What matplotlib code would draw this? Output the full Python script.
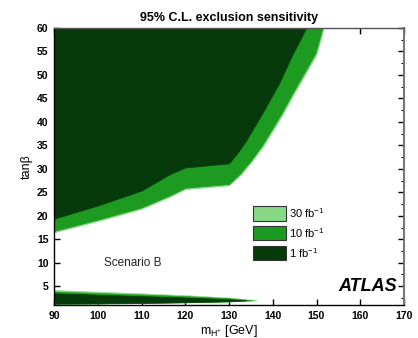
import matplotlib
matplotlib.use("Agg")
import matplotlib.pyplot as plt
from matplotlib.patches import Rectangle
from matplotlib.ticker import MultipleLocator

plt.rcParams['font.family'] = ['Liberation Sans', 'DejaVu Sans']
plt.rcParams['mathtext.fontset'] = 'custom'
plt.rcParams['mathtext.rm'] = 'Liberation Sans'
plt.rcParams['mathtext.it'] = 'Liberation Sans:italic'

# ---- data: exclusion contours (upper region, tan(beta) vs m_H+) ----
x_1fb = [90, 100, 110, 116.5, 120, 130, 132, 134, 137.5, 141.3, 144.3, 147.6]
y_1fb = [19.4, 22.2, 25.4, 28.9, 30.3, 31.2, 33.5, 36.2, 41.7, 48.0, 54.0, 60]

x_10fb = [90, 100, 110, 116.5, 120, 130, 132.5, 135, 137.5, 140, 142, 144.3, 147.0, 149.7, 150.8, 151.3]
y_10fb = [16.8, 19.2, 21.8, 24.4, 26.0, 26.8, 29.0, 31.8, 35.0, 38.8, 41.9, 45.8, 50.2, 54.6, 58.2, 60]

x_30fb = [90, 100, 110, 116.5, 120, 130, 132.7, 135.2, 137.8, 140.3, 142.3, 144.6, 147.3, 150.0, 151.1, 151.6]
y_30fb = [16.5, 18.9, 21.5, 24.1, 25.7, 26.5, 28.8, 31.6, 34.8, 38.6, 41.7, 45.6, 50.0, 54.4, 58.1, 60]

# ---- data: low tan(beta) exclusion wedge ----
xl_1fb = [90, 100, 110, 120, 130, 134]
top_1fb = [3.5, 3.2, 2.9, 2.6, 2.25, 2.0]
bot_1fb = [1.3, 1.35, 1.45, 1.6, 1.8, 2.0]

xl_10fb = [90, 100, 110, 120, 130, 135.5]
top_10fb = [3.9, 3.55, 3.25, 2.9, 2.45, 2.0]
bot_10fb = [1.25, 1.3, 1.4, 1.55, 1.75, 2.0]

xl_30fb = [90, 100, 110, 120, 130, 136.5]
top_30fb = [4.2, 3.85, 3.5, 3.1, 2.6, 2.0]
bot_30fb = [1.25, 1.3, 1.4, 1.55, 1.75, 2.0]

labels = ['30 fb$^{-1}$', '10 fb$^{-1}$', '1 fb$^{-1}$']
colors = ['#88d888', '#1c9b20', '#073a0a']

xticks = [90, 100, 110, 120, 130, 140, 150, 160, 170]
yticks = [5, 10, 15, 20, 25, 30, 35, 40, 45, 50, 55, 60]
XMIN, XMAX, YMIN, YMAX = 90, 170, 1, 60

fig = plt.figure(figsize=(4.18, 3.38), dpi=100)
ax = fig.add_axes([54/418, 33/338, 350/418, 277/338])
ax.set_axisbelow(True)

# upper region
for xs, ys, c in [(x_30fb, y_30fb, colors[0]), (x_10fb, y_10fb, colors[1]), (x_1fb, y_1fb, colors[2])]:
    ax.fill_between(xs, ys, YMAX, color=c, lw=0.6, edgecolor=c, zorder=1)
# low region
for xs, t, b, c in [(xl_30fb, top_30fb, bot_30fb, colors[0]), (xl_10fb, top_10fb, bot_10fb, colors[1]),
                    (xl_1fb, top_1fb, bot_1fb, colors[2])]:
    ax.fill_between(xs, b, t, color=c, lw=0.4, edgecolor=c, zorder=1)

ax.set_xlim(XMIN, XMAX)
ax.set_ylim(YMIN, YMAX)
ax.set_xticks(xticks)
ax.set_yticks(yticks)
ax.yaxis.set_minor_locator(MultipleLocator(2.5))
ax.tick_params(which='major', direction='in', length=4, width=1, top=True, right=True,
               labelsize=7.5, pad=4)
ax.tick_params(which='minor', direction='in', length=2, width=0.8, left=False, right=True)
for lab in ax.get_xticklabels() + ax.get_yticklabels():
    lab.set_fontweight('bold')

for s in ['left', 'bottom', 'top']:
    ax.spines[s].set_linewidth(1.0)
ax.spines['right'].set_color('#777777')
ax.spines['right'].set_linewidth(1.5)
ax.spines['top'].set_color('#555555')

ax.set_title('95% C.L. exclusion sensitivity', fontsize=9, fontweight='bold', pad=5)
ax.set_xlabel(r'm$_{\mathrm{H}^{+}}$ [GeV]', fontsize=9, labelpad=2)
ax.set_ylabel('tanβ', fontsize=9, labelpad=3)

ax.text(0.225, 0.15, 'Scenario B', transform=ax.transAxes, fontsize=8.5, ha='center', va='center',
        color='#222222')
ax.text(0.98, 0.065, 'ATLAS', transform=ax.transAxes, fontsize=13, fontweight='bold', style='italic',
        ha='right', va='center')

# legend
box_y = [0.304, 0.235, 0.162]
for yb, lab, c in zip(box_y, labels, colors):
    ax.add_patch(Rectangle((0.569, yb), 0.094, 0.052, transform=ax.transAxes, facecolor=c,
                           edgecolor='#333333', lw=0.8, zorder=3))
    ax.text(0.672, yb + 0.026, lab, transform=ax.transAxes, fontsize=8, va='center', ha='left', zorder=3)

fig.savefig('out.png', dpi=100)
